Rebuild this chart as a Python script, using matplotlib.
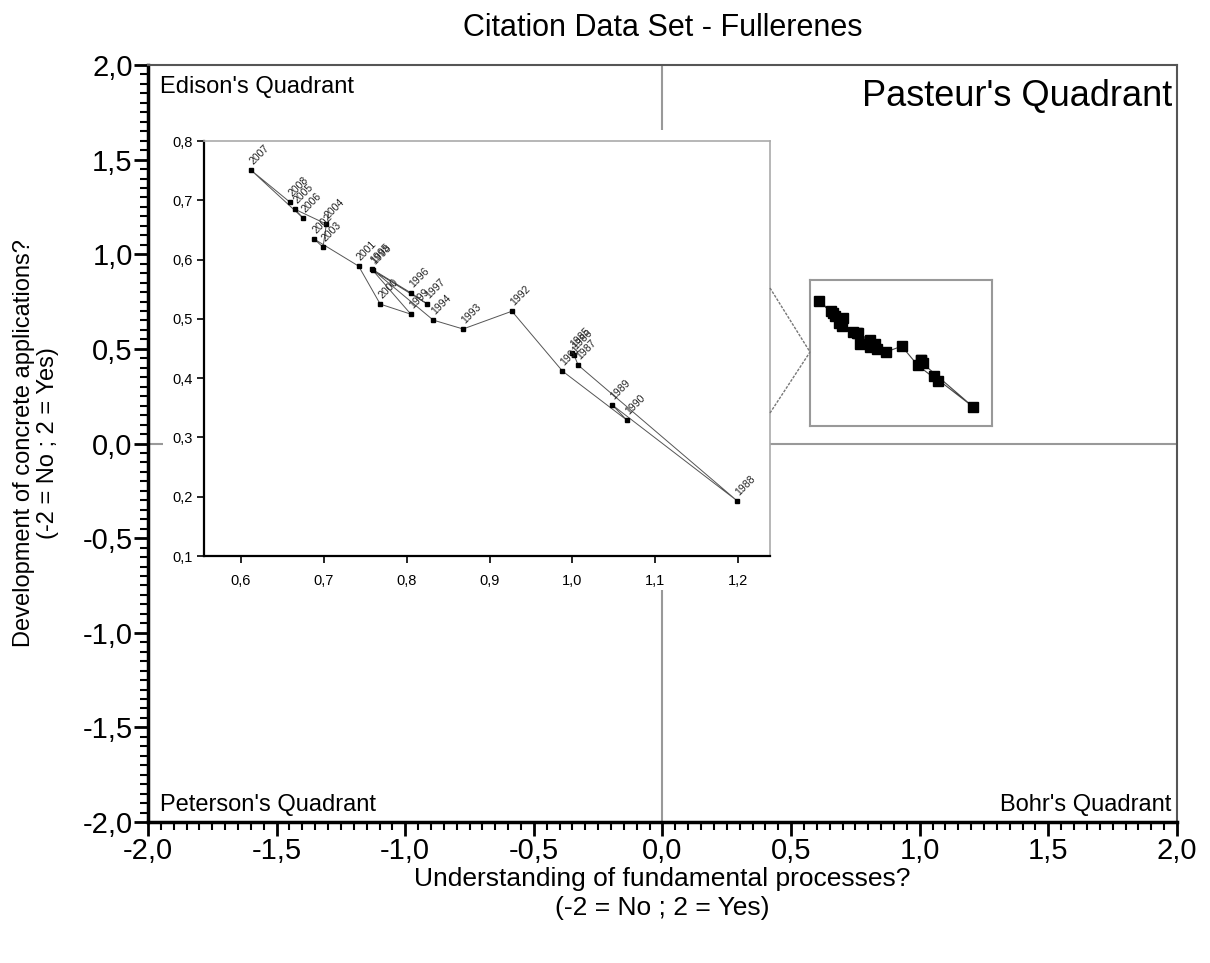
import matplotlib
matplotlib.use("Agg")
import matplotlib.pyplot as plt
from matplotlib.lines import Line2D
from matplotlib.patches import Rectangle
from matplotlib.ticker import MultipleLocator, FuncFormatter

plt.rcParams['font.family'] = ['Liberation Sans', 'DejaVu Sans']

# yearly position of the fullerenes citation set
years = [1985, 1986, 1987, 1988, 1989, 1990, 1991, 1992, 1993, 1994, 1995, 1996,
         1997, 1998, 1999, 2000, 2001, 2002, 2003, 2004, 2005, 2006, 2007, 2008]
understanding = [1.000, 1.002, 1.007, 1.199, 1.048, 1.066, 0.988, 0.927, 0.868, 0.832, 0.758, 0.805,
                 0.825, 0.759, 0.805, 0.768, 0.742, 0.688, 0.699, 0.703, 0.665, 0.675, 0.612, 0.659]
applications = [0.442, 0.439, 0.422, 0.193, 0.355, 0.329, 0.412, 0.513, 0.483, 0.498, 0.584, 0.544,
                0.525, 0.582, 0.508, 0.525, 0.589, 0.635, 0.621, 0.660, 0.685, 0.670, 0.751, 0.697]

main_ticks = [-2.0, -1.5, -1.0, -0.5, 0.0, 0.5, 1.0, 1.5, 2.0]
inset_xticks = [0.6, 0.7, 0.8, 0.9, 1.0, 1.1, 1.2]
inset_yticks = [0.1, 0.2, 0.3, 0.4, 0.5, 0.6, 0.7, 0.8]

comma = FuncFormatter(lambda v, p: f"{v:.1f}".replace(".", ","))

fig = plt.figure(figsize=(12.1, 9.63), dpi=100)
ax = fig.add_axes([0.1223, 0.1464, 0.8504, 0.7861])
ax.set_xlim(-2, 2)
ax.set_ylim(-2, 2)
ax.set_xticks(main_ticks)
ax.set_yticks(main_ticks)
ax.xaxis.set_minor_locator(MultipleLocator(0.05))
ax.yaxis.set_minor_locator(MultipleLocator(0.05))
ax.xaxis.set_major_formatter(comma)
ax.yaxis.set_major_formatter(comma)
ax.tick_params(which='major', direction='out', length=10, width=2, labelsize=21, pad=1)
ax.tick_params(which='minor', direction='out', length=6, width=1.5)
for s in ['left', 'bottom']:
    ax.spines[s].set_linewidth(2.5)
for s in ['top', 'right']:
    ax.spines[s].set_color('#555555')
    ax.spines[s].set_linewidth(1.5)

ax.axhline(0, color='#999999', lw=1.5, zorder=0)
ax.axvline(0, color='#999999', lw=1.5, zorder=0)

ax.set_title("Citation Data Set - Fullerenes", fontsize=22, pad=21)
ax.set_xlabel("Understanding of fundamental processes?\n(-2 = No ; 2 = Yes)", fontsize=19, labelpad=1,
              linespacing=1.3)
ax.set_ylabel("Development of concrete applications?\n(-2 = No ; 2 = Yes)", fontsize=17, labelpad=17,
              linespacing=1.1)

ax.text(0.012, 0.985, "Edison's Quadrant", transform=ax.transAxes, fontsize=17, va='top', ha='left')
ax.text(0.995, 0.982, "Pasteur's Quadrant", transform=ax.transAxes, fontsize=26, va='top', ha='right')
ax.text(0.012, 0.008, "Peterson's Quadrant", transform=ax.transAxes, fontsize=17, va='bottom', ha='left')
ax.text(0.995, 0.008, "Bohr's Quadrant", transform=ax.transAxes, fontsize=17, va='bottom', ha='right')

# white area behind the inset hides the quadrant lines
fig.patches.append(Rectangle((0.1347, 0.3873), 0.5017, 0.4777, transform=fig.transFigure,
                             facecolor='white', edgecolor='none', zorder=1))

ins = fig.add_axes([0.1686, 0.4226, 0.4678, 0.4309], zorder=3)
ins.plot(understanding, applications, color='#555555', lw=0.7, marker='s', ms=3,
         mfc='black', mec='black')
for yr, xv, yv in zip(years, understanding, applications):
    ins.annotate(str(yr), (xv, yv), xytext=(2.5, 2.5), textcoords='offset points',
                 fontsize=7.5, rotation=45, rotation_mode='anchor', ha='left', va='bottom',
                 color='#222222')
ins.set_xlim(0.5553, 1.2386)
ins.set_ylim(0.1, 0.8)
ins.set_xticks(inset_xticks)
ins.set_yticks(inset_yticks)
ins.xaxis.set_major_formatter(comma)
ins.yaxis.set_major_formatter(comma)
ins.tick_params(direction='out', length=5, width=1.2, labelsize=10.5, pad=3)
ins.tick_params(axis='x', pad=8)
for s in ['left', 'bottom']:
    ins.spines[s].set_linewidth(1.6)
for s in ['top', 'right']:
    ins.spines[s].set_color('#aaaaaa')
    ins.spines[s].set_linewidth(1.2)

# small overview box
mini = fig.add_axes([0.6694, 0.5576, 0.1504, 0.1516], zorder=3)
mini.plot(understanding, applications, color='#444444', lw=0.8, marker='s', ms=7,
          mfc='black', mec='black')
mini.set_xlim(0.578, 1.27)
mini.set_ylim(0.093, 0.861)
mini.set_xticks([])
mini.set_yticks([])
for s in mini.spines.values():
    s.set_color('#999999')
    s.set_linewidth(1.5)

# connector lines from the inset to the overview box
for y0 in [1 - 288 / 963, 1 - 413 / 963]:
    fig.add_artist(Line2D([770 / 1210, 810 / 1210], [y0, 1 - 352 / 963], transform=fig.transFigure,
                          color='#777777', lw=1, ls=(0, (2, 1)), zorder=4))

fig.savefig("out.png", dpi=100)
